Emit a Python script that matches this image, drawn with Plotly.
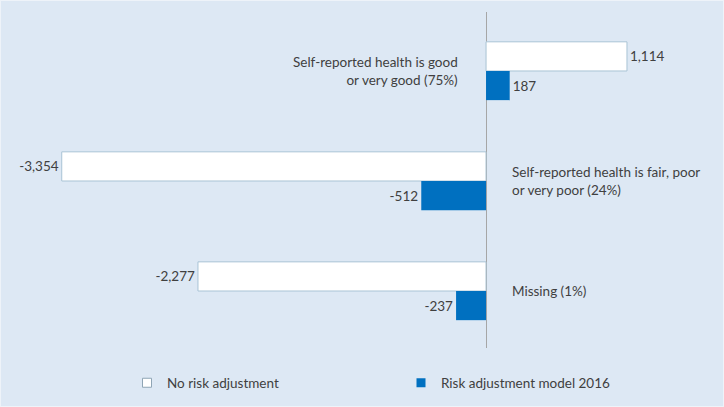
import plotly.graph_objects as go

categories = ["Self-reported health is good<br>or very good (75%)",
              "Self-reported health is fair, poor<br>or very poor (24%)",
              "Missing (1%)"]
series_names = ["No risk adjustment", "Risk adjustment model 2016"]
no_adj = [1114, -3354, -2277]
adj_2016 = [187, -512, -237]
label_side = ["left", "right", "right"]

TXT = "#404040"
FONT = "Lato"
BG = "#dde8f4"
WHITE_LINE = "#a9c3d5"
BLUE = "#0070c0"

fig = go.Figure()
fig.add_trace(go.Bar(
    y=categories, x=no_adj, orientation="h", name=series_names[0],
    marker=dict(color="white", line=dict(color=WHITE_LINE, width=1)),
    text=[f"{v:,}" for v in no_adj], textposition="outside",
    textfont=dict(color=TXT, size=13.5, family=FONT), cliponaxis=False,
    showlegend=False, hoverinfo="skip",
))
fig.add_trace(go.Bar(
    y=categories, x=adj_2016, orientation="h", name=series_names[1],
    marker=dict(color=BLUE, line=dict(width=0)),
    text=[f"{v:,}" for v in adj_2016], textposition="outside",
    textfont=dict(color=TXT, size=13.5, family=FONT), cliponaxis=False,
    showlegend=False, hoverinfo="skip",
))
# legend-only entries with small square symbols
fig.add_trace(go.Scatter(x=[None], y=[None], mode="markers", name=series_names[0],
                         marker=dict(symbol="square", size=9, color="white",
                                     line=dict(color="#8fa5b5", width=1))))
fig.add_trace(go.Scatter(x=[None], y=[None], mode="markers", name=series_names[1],
                         marker=dict(symbol="square", size=9, color=BLUE,
                                     line=dict(width=0))))

for cat, side in zip(categories, label_side):
    fig.add_annotation(
        x=0, y=cat, xref="x", yref="y", text=cat, showarrow=False,
        xanchor="right" if side == "left" else "left",
        xshift=-26 if side == "left" else 24,
        align="right" if side == "left" else "left",
        font=dict(color=TXT, size=13.5, family=FONT),
    )

fig.add_shape(type="rect", xref="paper", yref="paper",
              x0=0, x1=1, y0=-59 / 336, y1=1 + 12 / 336,
              line=dict(color="#eef3f9", width=2), fillcolor="rgba(0,0,0,0)",
              layer="above")

fig.update_layout(
    width=724, height=407,
    paper_bgcolor=BG, plot_bgcolor=BG,
    margin=dict(l=0, r=0, t=12, b=59),
    barmode="group", bargap=0.47, bargroupgap=0,
    font=dict(family=FONT, color=TXT, size=13.5),
    xaxis=dict(range=[-3842, 1881], showgrid=False, showticklabels=False,
               zeroline=True, zerolinecolor="#a6a6a6", zerolinewidth=1,
               fixedrange=True, automargin=False),
    yaxis=dict(range=[2.518, -0.536], showgrid=False, showticklabels=False,
               zeroline=False, fixedrange=True, automargin=False),
    legend=dict(orientation="h", x=127 / 724, y=-0.058, xanchor="left", yanchor="top",
                entrywidth=229, entrywidthmode="pixels",
                font=dict(color=TXT, size=13.5, family=FONT),
                traceorder="normal", bgcolor="rgba(0,0,0,0)"),
    showlegend=True,
)

fig.write_html("out.html", config={"displayModeBar": False},
               post_script="document.body.style.margin='0px';document.body.style.overflow='hidden';")
